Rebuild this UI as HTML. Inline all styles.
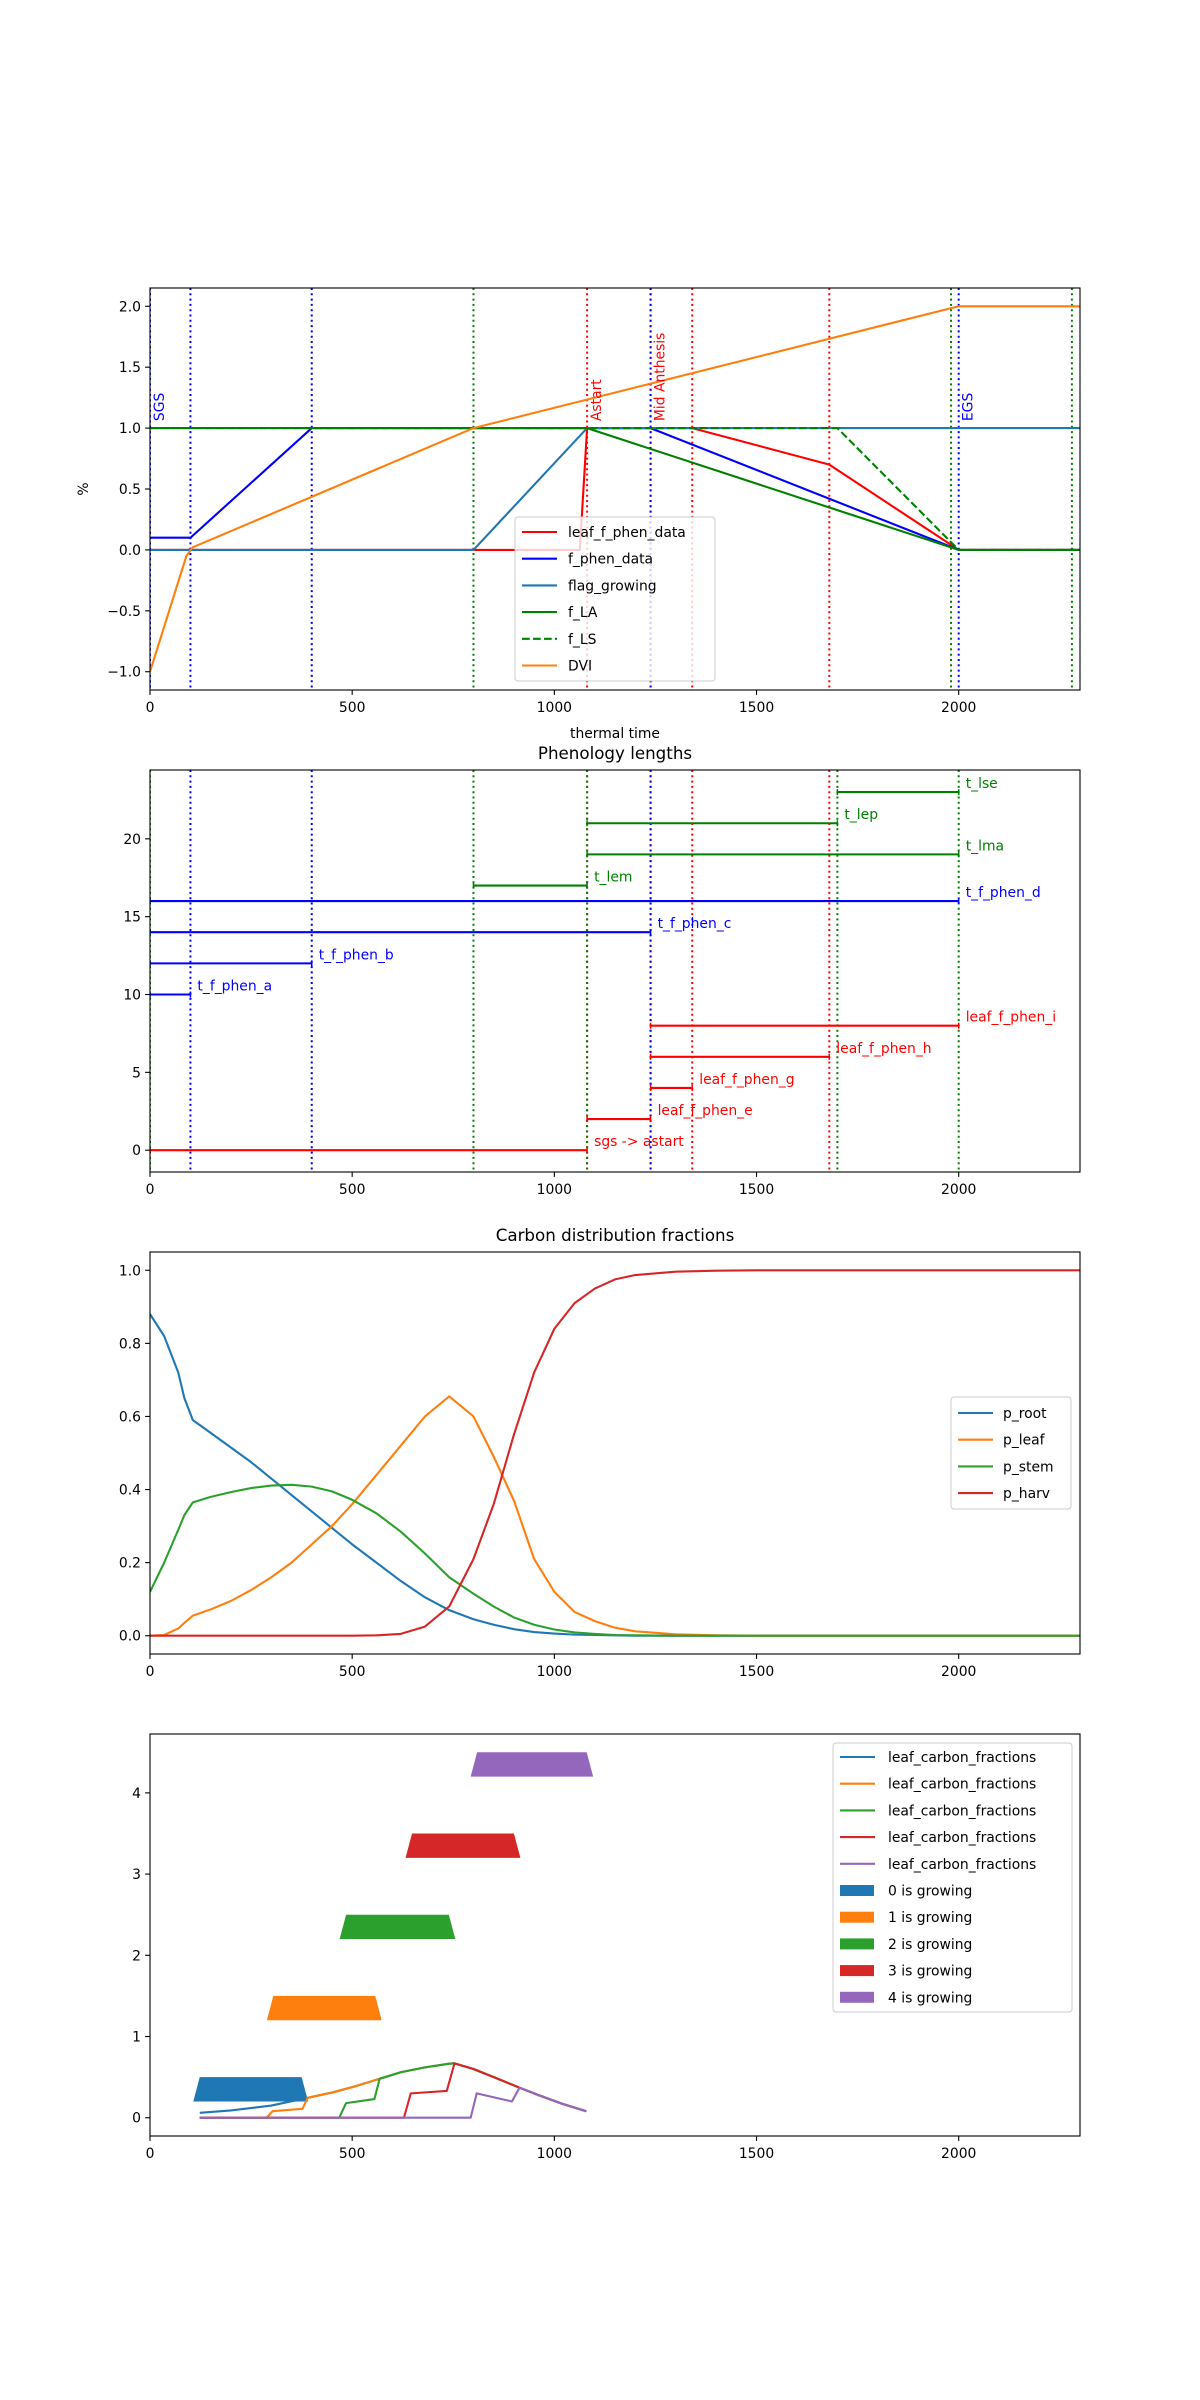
<!DOCTYPE html>
<html><head><meta charset="utf-8"><style>
html,body{margin:0;padding:0;background:#fff}
svg{display:block}
text{font-family:"DejaVu Sans","Liberation Sans",sans-serif}
</style></head><body>
<svg id="fig" xmlns="http://www.w3.org/2000/svg" width="1200" height="2400" viewBox="0 0 1200 2400"></svg>
<script>
// ---------- DATA ----------
const xTicks = [0, 500, 1000, 1500, 2000];
// Panel 1
const p1YTicks = [-1.0, -0.5, 0.0, 0.5, 1.0, 1.5, 2.0];
const p1VLineX = [0, 0, 100, 400, 800, 1081, 1238, 1238, 1341, 1680, 1981, 2000, 2280];
const p1VLineC = ["green","blue","blue","blue","green","red","red","blue","red","red","green","blue","green"];
const p1MarkLabels = ["SGS", "Astart", "Mid Anthesis", "EGS"];
const p1MarkX = [0, 1081, 1238, 2000];
const p1MarkC = ["blue", "red", "red", "blue"];
const leafPhenX = [0, 1063, 1081, 1341, 1680, 2000, 2300];
const leafPhenY = [0, 0, 1, 1, 0.7, 0, 0];
const fPhenX = [0, 100, 400, 1238, 2000, 2300];
const fPhenY = [0.1, 0.1, 1, 1, 0, 0];
const flagX = [0, 800, 1081, 2300];
const flagY = [0, 0, 1, 1];
const fLAX = [0, 1081, 2000, 2300];
const fLAY = [1, 1, 0, 0];
const fLSX = [0, 1700, 2000, 2300];
const fLSY = [1, 1, 0, 0];
const dviX = [0, 90, 105, 800, 2000, 2300];
const dviY = [-1, -0.05, 0.02, 1, 2, 2];
// Panel 2
const p2YTicks = [0, 5, 10, 15, 20];
const p2VLineX = [0, 100, 400, 800, 1081, 1081, 1238, 1238, 1341, 1680, 1700, 2000];
const p2VLineC = ["green","blue","blue","green","red","green","red","blue","red","red","green","green"];
const segLabels = ["sgs -> astart","leaf_f_phen_e","leaf_f_phen_g","leaf_f_phen_h","leaf_f_phen_i","t_f_phen_a","t_f_phen_b","t_f_phen_c","t_f_phen_d","t_lem","t_lma","t_lep","t_lse"];
const segY = [0, 2, 4, 6, 8, 10, 12, 14, 16, 17, 19, 21, 23];
const segStart = [0, 1081, 1238, 1238, 1238, 0, 0, 0, 0, 800, 1081, 1081, 1700];
const segEnd = [1081, 1238, 1341, 1680, 2000, 100, 400, 1238, 2000, 1081, 2000, 1700, 2000];
const segColor = ["red","red","red","red","red","blue","blue","blue","blue","green","green","green","green"];
// Panel 3
const p3YTicks = [0.0, 0.2, 0.4, 0.6, 0.8, 1.0];
const carbonX = [0,35,70,85,106,150,200,250,300,350,400,450,500,560,620,680,740,800,850,900,950,1000,1050,1100,1150,1200,1300,1400,1500,2300];
const pRoot = [0.88,0.82,0.72,0.65,0.59,0.555,0.515,0.475,0.43,0.385,0.34,0.295,0.25,0.2,0.15,0.105,0.07,0.045,0.03,0.018,0.01,0.006,0.003,0.002,0.001,0,0,0,0,0];
const pLeaf = [0,0.002,0.02,0.035,0.055,0.072,0.095,0.125,0.16,0.2,0.25,0.3,0.36,0.44,0.52,0.6,0.655,0.6,0.49,0.37,0.21,0.12,0.065,0.04,0.022,0.012,0.004,0.001,0,0];
const pStem = [0.12,0.2,0.29,0.33,0.365,0.38,0.393,0.404,0.411,0.413,0.408,0.395,0.372,0.335,0.285,0.225,0.16,0.115,0.08,0.05,0.03,0.017,0.009,0.005,0.002,0.001,0,0,0,0];
const pHarv = [0,0,0,0,0,0,0,0,0,0,0,0,0,0.001,0.005,0.025,0.08,0.21,0.36,0.55,0.72,0.84,0.91,0.95,0.975,0.987,0.996,0.999,1,1];
// Panel 4
const p4YTicks = [0, 1, 2, 3, 4];
const growStart = [123, 305, 485, 648, 809];
const growEnd = [375, 557, 739, 900, 1080];
const growLevel = [0, 1, 2, 3, 4];
const leaf0X = [123,200,300,390,450,510,568,620,680,740,753,800,850,914,960,1020,1079];
const leaf0Y = [0.06,0.09,0.15,0.245,0.31,0.39,0.48,0.56,0.62,0.665,0.67,0.6,0.5,0.37,0.28,0.17,0.08];
const leaf1X = [123,288,303,377,390,450,510,568,620,680,740,753,800,850,914,960,1020,1079];
const leaf1Y = [0,0,0.08,0.11,0.245,0.31,0.39,0.48,0.56,0.62,0.665,0.67,0.6,0.5,0.37,0.28,0.17,0.08];
const leaf2X = [123,468,485,555,568,620,680,740,753,800,850,914,960,1020,1079];
const leaf2Y = [0,0,0.18,0.23,0.48,0.56,0.62,0.665,0.67,0.6,0.5,0.37,0.28,0.17,0.08];
const leaf3X = [123,628,645,734,753,800,850,914,960,1020,1079];
const leaf3Y = [0,0,0.3,0.33,0.67,0.6,0.5,0.37,0.28,0.17,0.08];
const leaf4X = [123,793,808,895,914,960,1020,1079];
const leaf4Y = [0,0,0.3,0.2,0.37,0.28,0.17,0.08];

// ---------- RENDER ----------
const NS = "http://www.w3.org/2000/svg";
const svg = document.getElementById("fig");
const L = 150, R = 1080;
const XMAX = 2300;
const TAB = ["#1f77b4","#ff7f0e","#2ca02c","#d62728","#9467bd"];
function mk(tag, attrs, parent) {
  const e = document.createElementNS(NS, tag);
  for (const k in attrs) e.setAttribute(k, attrs[k]);
  (parent || svg).appendChild(e);
  return e;
}
function sx(v) { return L + v * (R - L) / XMAX; }
function makeY(top, bottom, ymin, ymax) { return v => bottom - (v - ymin) * (bottom - top) / (ymax - ymin); }
function fmt(v, d) { return v < 0 ? "\u2212" + Math.abs(v).toFixed(d) : v.toFixed(d); }

function axes(name, top, bottom, sy, yTicks, dec) {
  const g = mk("g", {});
  
  
  const clip = mk("clipPath", {id: "clip-" + name}, g);
  mk("rect", {x: L, y: top, width: R - L, height: bottom - top}, clip);
  const plot = mk("g", {"clip-path": "url(#clip-" + name + ")"}, g);
  
  
  const frame = mk("rect", {x: L, y: top, width: R - L, height: bottom - top, fill: "none", stroke: "#000", "stroke-width": 1.1}, g);
  
  
  xTicks.forEach(t => {
    const x = sx(t);
    mk("line", {x1: x, x2: x, y1: bottom, y2: bottom + 4.9, stroke: "#000", "stroke-width": 1.1}, g);
    const tx = mk("text", {x: x, y: bottom + 22, "font-size": 13.9, "text-anchor": "middle"}, g);
    tx.textContent = t;
    
    
  });
  yTicks.forEach(t => {
    const y = sy(t);
    mk("line", {x1: L - 4.9, x2: L, y1: y, y2: y, stroke: "#000", "stroke-width": 1.1}, g);
    const tx = mk("text", {x: L - 9, y: y + 5, "font-size": 13.9, "text-anchor": "end"}, g);
    tx.textContent = fmt(t, dec);
    
    
  });
  return {g, plot};
}
function vline(parent, x, top, bottom, color) {
  const l = mk("line", {x1: sx(x), x2: sx(x), y1: top, y2: bottom, stroke: color, "stroke-width": 2, "stroke-dasharray": "2,3.3"}, parent);
  
  
}
function series(parent, xs, ys, sy, color, name, dash) {
  const pts = xs.map((x, i) => sx(x).toFixed(2) + "," + sy(ys[i]).toFixed(2)).join(" ");
  const a = {points: pts, fill: "none", stroke: color, "stroke-width": 2.1, "stroke-linejoin": "round"};
  if (dash) a["stroke-dasharray"] = dash;
  const p = mk("polyline", a, parent);
  
  
}
function legend(name, x0, y0, w, h, firstY, items, textX) {
  const g = mk("g", {});
  
  
  mk("rect", {x: x0, y: y0, width: w, height: h, rx: 3, fill: "#fff", "fill-opacity": 0.8, stroke: "#ccc", "stroke-width": 1}, g);
  items.forEach((it, i) => {
    const y = firstY + i * 26.7;
    const e = mk("g", {}, g);
    
    
    if (it.patch) {
      mk("rect", {x: x0 + 7, y: y - 5.5, width: 34, height: 11, fill: it.c}, e);
    } else {
      const a = {x1: x0 + 7, x2: x0 + 42, y1: y, y2: y, stroke: it.c, "stroke-width": 2.1};
      if (it.dash) a["stroke-dasharray"] = it.dash;
      mk("line", a, e);
    }
    const t = mk("text", {x: textX, y: y + 5, "font-size": 13.9}, e);
    t.textContent = it.label;
  });
}

// ===== Panel 1 =====
(function () {
  const top = 288, bottom = 690;
  const sy = makeY(top, bottom, -1.15, 2.15);
  const A = axes("phenology-axes", top, bottom, sy, p1YTicks, 1);
  p1VLineX.forEach((x, i) => vline(A.plot, x, top, bottom, p1VLineC[i]));
  p1MarkLabels.forEach((lab, i) => {
    const x = sx(p1MarkX[i]) + 14, y = sy(1.0) - 7;
    const t = mk("text", {x: x, y: y, "font-size": 13.9, fill: p1MarkC[i], transform: "rotate(-90 " + x + " " + y + ")"}, A.g);
    t.textContent = lab;
    
    
  });
  series(A.plot, leafPhenX, leafPhenY, sy, "red", "leaf-f-phen-line");
  series(A.plot, fPhenX, fPhenY, sy, "blue", "f-phen-line");
  series(A.plot, flagX, flagY, sy, TAB[0], "flag-growing-line");
  series(A.plot, fLAX, fLAY, sy, "green", "f-la-line");
  series(A.plot, fLSX, fLSY, sy, "green", "f-ls-line", "7.7,3.3");
  series(A.plot, dviX, dviY, sy, TAB[1], "dvi-line");
  const xl = mk("text", {x: (L + R) / 2, y: 738, "font-size": 13.9, "text-anchor": "middle"});
  xl.textContent = "thermal time";
  
  
  const yl = mk("text", {x: 88, y: 489, "font-size": 13.9, "text-anchor": "middle", transform: "rotate(-90 88 489)"});
  yl.textContent = "%";
  
  
  legend("phenology-legend", 515, 517, 200, 164, 532, [
    {c: "red", label: "leaf_f_phen_data"}, {c: "blue", label: "f_phen_data"},
    {c: TAB[0], label: "flag_growing"}, {c: "green", label: "f_LA"},
    {c: "green", label: "f_LS", dash: "7.7,3.3"}, {c: TAB[1], label: "DVI"}], 568);
})();

// ===== Panel 2 =====
(function () {
  const top = 770, bottom = 1172;
  const sy = makeY(top, bottom, -1.4, 24.42);
  const A = axes("lengths-axes", top, bottom, sy, p2YTicks, 0);
  p2VLineX.forEach((x, i) => vline(A.plot, x, top, bottom, p2VLineC[i]));
  segLabels.forEach((lab, i) => {
    const y = sy(segY[i]);
    const l = mk("line", {x1: sx(segStart[i]), x2: sx(segEnd[i]), y1: y, y2: y, stroke: segColor[i], "stroke-width": 2.1}, A.plot);
    
    
    [segStart[i], segEnd[i]].forEach(xx => mk("line", {x1: sx(xx), x2: sx(xx), y1: y - 3, y2: y + 3, stroke: segColor[i], "stroke-width": 1.5}, A.plot));
    const t = mk("text", {x: sx(segEnd[i]) + 7, y: y - 4, "font-size": 13.9, fill: segColor[i]}, A.g);
    t.textContent = lab;
    
    
  });
  const tt = mk("text", {x: (L + R) / 2, y: 759, "font-size": 16.7, "text-anchor": "middle"});
  tt.textContent = "Phenology lengths";
  
  
})();

// ===== Panel 3 =====
(function () {
  const top = 1252, bottom = 1654;
  const sy = makeY(top, bottom, -0.05, 1.05);
  const A = axes("carbon-axes", top, bottom, sy, p3YTicks, 1);
  series(A.plot, carbonX, pRoot, sy, TAB[0], "p-root-line");
  series(A.plot, carbonX, pLeaf, sy, TAB[1], "p-leaf-line");
  series(A.plot, carbonX, pStem, sy, TAB[2], "p-stem-line");
  series(A.plot, carbonX, pHarv, sy, TAB[3], "p-harv-line");
  const tt = mk("text", {x: (L + R) / 2, y: 1241, "font-size": 16.7, "text-anchor": "middle"});
  tt.textContent = "Carbon distribution fractions";
  
  
  legend("carbon-legend", 951, 1397, 120, 112, 1413, [
    {c: TAB[0], label: "p_root"}, {c: TAB[1], label: "p_leaf"},
    {c: TAB[2], label: "p_stem"}, {c: TAB[3], label: "p_harv"}], 1003);
})();

// ===== Panel 4 =====
(function () {
  const top = 1734, bottom = 2136;
  const sy = makeY(top, bottom, -0.225, 4.725);
  const A = axes("leaf-growth-axes", top, bottom, sy, p4YTicks, 0);
  growLevel.forEach((lv, i) => {
    const s = growStart[i], e = growEnd[i];
    const pts = [[s - 16, lv + 0.2], [e + 16, lv + 0.2], [e, lv + 0.5], [s, lv + 0.5]]
      .map(p => sx(p[0]).toFixed(2) + "," + sy(p[1]).toFixed(2)).join(" ");
    const p = mk("polygon", {points: pts, fill: TAB[i]}, A.plot);
    
    
  });
  series(A.plot, leaf0X, leaf0Y, sy, TAB[0], "leaf-0-carbon-line");
  series(A.plot, leaf1X, leaf1Y, sy, TAB[1], "leaf-1-carbon-line");
  series(A.plot, leaf2X, leaf2Y, sy, TAB[2], "leaf-2-carbon-line");
  series(A.plot, leaf3X, leaf3Y, sy, TAB[3], "leaf-3-carbon-line");
  series(A.plot, leaf4X, leaf4Y, sy, TAB[4], "leaf-4-carbon-line");
  const items = [];
  for (let i = 0; i < 5; i++) items.push({c: TAB[i], label: "leaf_carbon_fractions"});
  for (let i = 0; i < 5; i++) items.push({c: TAB[i], label: i + " is growing", patch: true});
  legend("leaf-growth-legend", 833, 1743, 239, 269, 1757, items, 888);
})();
</script>
</body></html>
